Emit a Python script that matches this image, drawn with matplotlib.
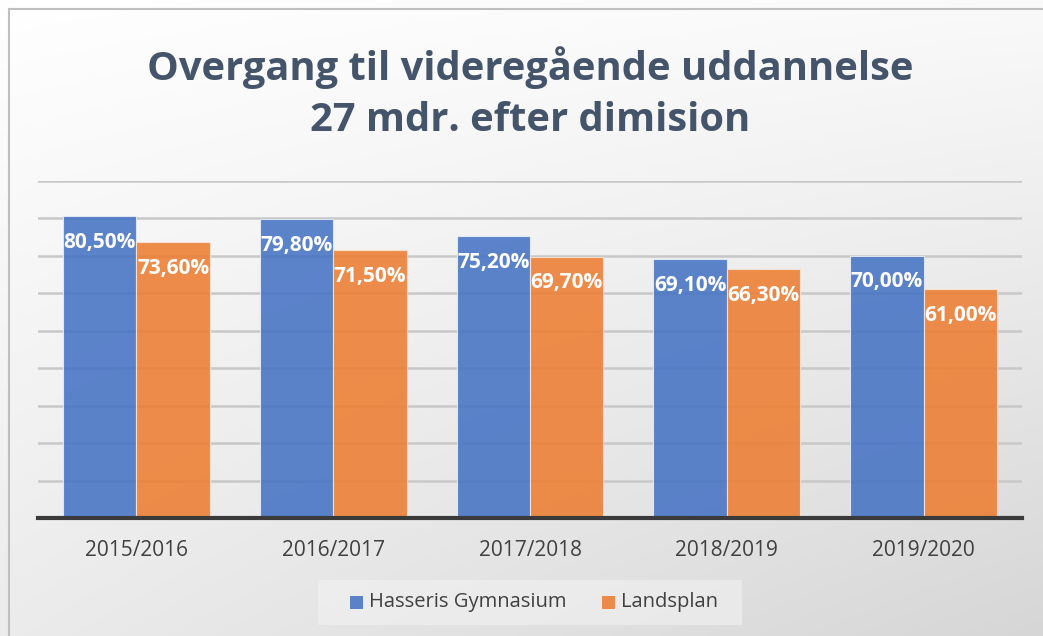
import matplotlib
matplotlib.use("Agg")
import matplotlib.pyplot as plt
import numpy as np
from matplotlib.patches import Rectangle

# --- data ---
years = ["2015/2016", "2016/2017", "2017/2018", "2018/2019", "2019/2020"]
hasseris = [80.5, 79.8, 75.2, 69.1, 70.0]
landsplan = [73.6, 71.5, 69.7, 66.3, 61.0]
series_names = ["Hasseris Gymnasium", "Landsplan"]
title = "Overgang til videregående uddannelse\n27 mdr. efter dimision"

BLUE = "#4472C4"
ORANGE = "#ED7D31"
TITLE_C = "#44546A"
TEXT_C = "#404040"

plt.rcParams["font.family"] = ["Open Sans", "DejaVu Sans"]

W, H = 1043, 636
fig = plt.figure(figsize=(W / 100, H / 100), dpi=100)

# gradient background (white top-left -> light gray bottom-right)
bg = fig.add_axes([0, 0, 1, 1], zorder=-10)
yy, xx = np.mgrid[0:1:200j, 0:1:300j]
g = 0.55 * yy + 0.45 * xx * yy + 0.15 * xx
g = g / g.max()
shade = 1.0 - 0.16 * g
bg.imshow(np.dstack([shade, shade, shade]), extent=[0, 1, 0, 1],
          aspect="auto", origin="upper")
bg.set_xlim(0, 1)
bg.set_ylim(0, 1)
bg.axis("off")
# chart frame (left/top border visible)
bg.plot([8.5 / W, 8.5 / W], [0, 1 - 8.5 / H], color="#BFBFBF", lw=1.5)
bg.plot([8.5 / W, 1], [1 - 8.5 / H, 1 - 8.5 / H], color="#BFBFBF", lw=1.5)

# plot area: x 38..1022, y 180..518 (pixels from top)
ax = fig.add_axes([38 / W, 1 - 518 / H, (1022 - 38) / W, (518 - 180.5) / H])
ax.patch.set_alpha(0)

x = np.arange(len(years))
w = 0.373
b1 = ax.bar(x - w / 2, hasseris, w, color=BLUE, alpha=0.87,
            edgecolor="#E8EEF8", linewidth=0.8, zorder=3)
b2 = ax.bar(x + w / 2, landsplan, w, color=ORANGE, alpha=0.87,
            edgecolor="#F8E6DA", linewidth=0.8, zorder=3)

for bars, vals in ((b1, hasseris), (b2, landsplan)):
    for r, v in zip(bars, vals):
        ax.text(r.get_x() + r.get_width() / 2, v - 7.0,
                f"{v:.2f}".replace(".", ",") + "%",
                ha="center", va="center", color="white", fontsize=15,
                fontweight="bold", zorder=5)

ax.set_xlim(-0.5, len(years) - 0.5)
ax.set_ylim(0, 90)
ax.set_yticks(np.arange(10, 91, 10))
ax.yaxis.grid(True, color="#C8C8C8", lw=1.8, zorder=0)
ax.set_axisbelow(True)
ax.tick_params(axis="y", left=False, labelleft=False)
ax.tick_params(axis="x", bottom=False, labelsize=15, labelcolor=TEXT_C, pad=12)
ax.set_xticks(x)
ax.set_xticklabels(years)
for s in ("top", "right", "left"):
    ax.spines[s].set_visible(False)
ax.spines["bottom"].set_color("#3A3A3A")
ax.spines["bottom"].set_linewidth(3)
ax.spines["bottom"].set_zorder(6)

fig.text(530 / W, 1 - 93 / H, title, ha="center", va="center", color=TITLE_C,
         fontsize=28.7, fontweight="bold", linespacing=1.42)

# legend box
lg = fig.add_axes([318 / W, 1 - 625 / H, (742 - 318) / W, 45 / H])
lg.set_xlim(318, 742)
lg.set_ylim(625, 580)
lg.axis("off")
lg.add_patch(Rectangle((318, 580), 424, 45, color="#F2F2F2", alpha=0.6, lw=0))
for px, col, name in ((350, BLUE, series_names[0]), (602, ORANGE, series_names[1])):
    lg.add_patch(Rectangle((px, 596), 13, 13, color=col, alpha=0.87, lw=0))
    lg.text(px + 19, 602.5, name, ha="left", va="center", color=TEXT_C, fontsize=14.5)

fig.savefig("out.png", dpi=100)
